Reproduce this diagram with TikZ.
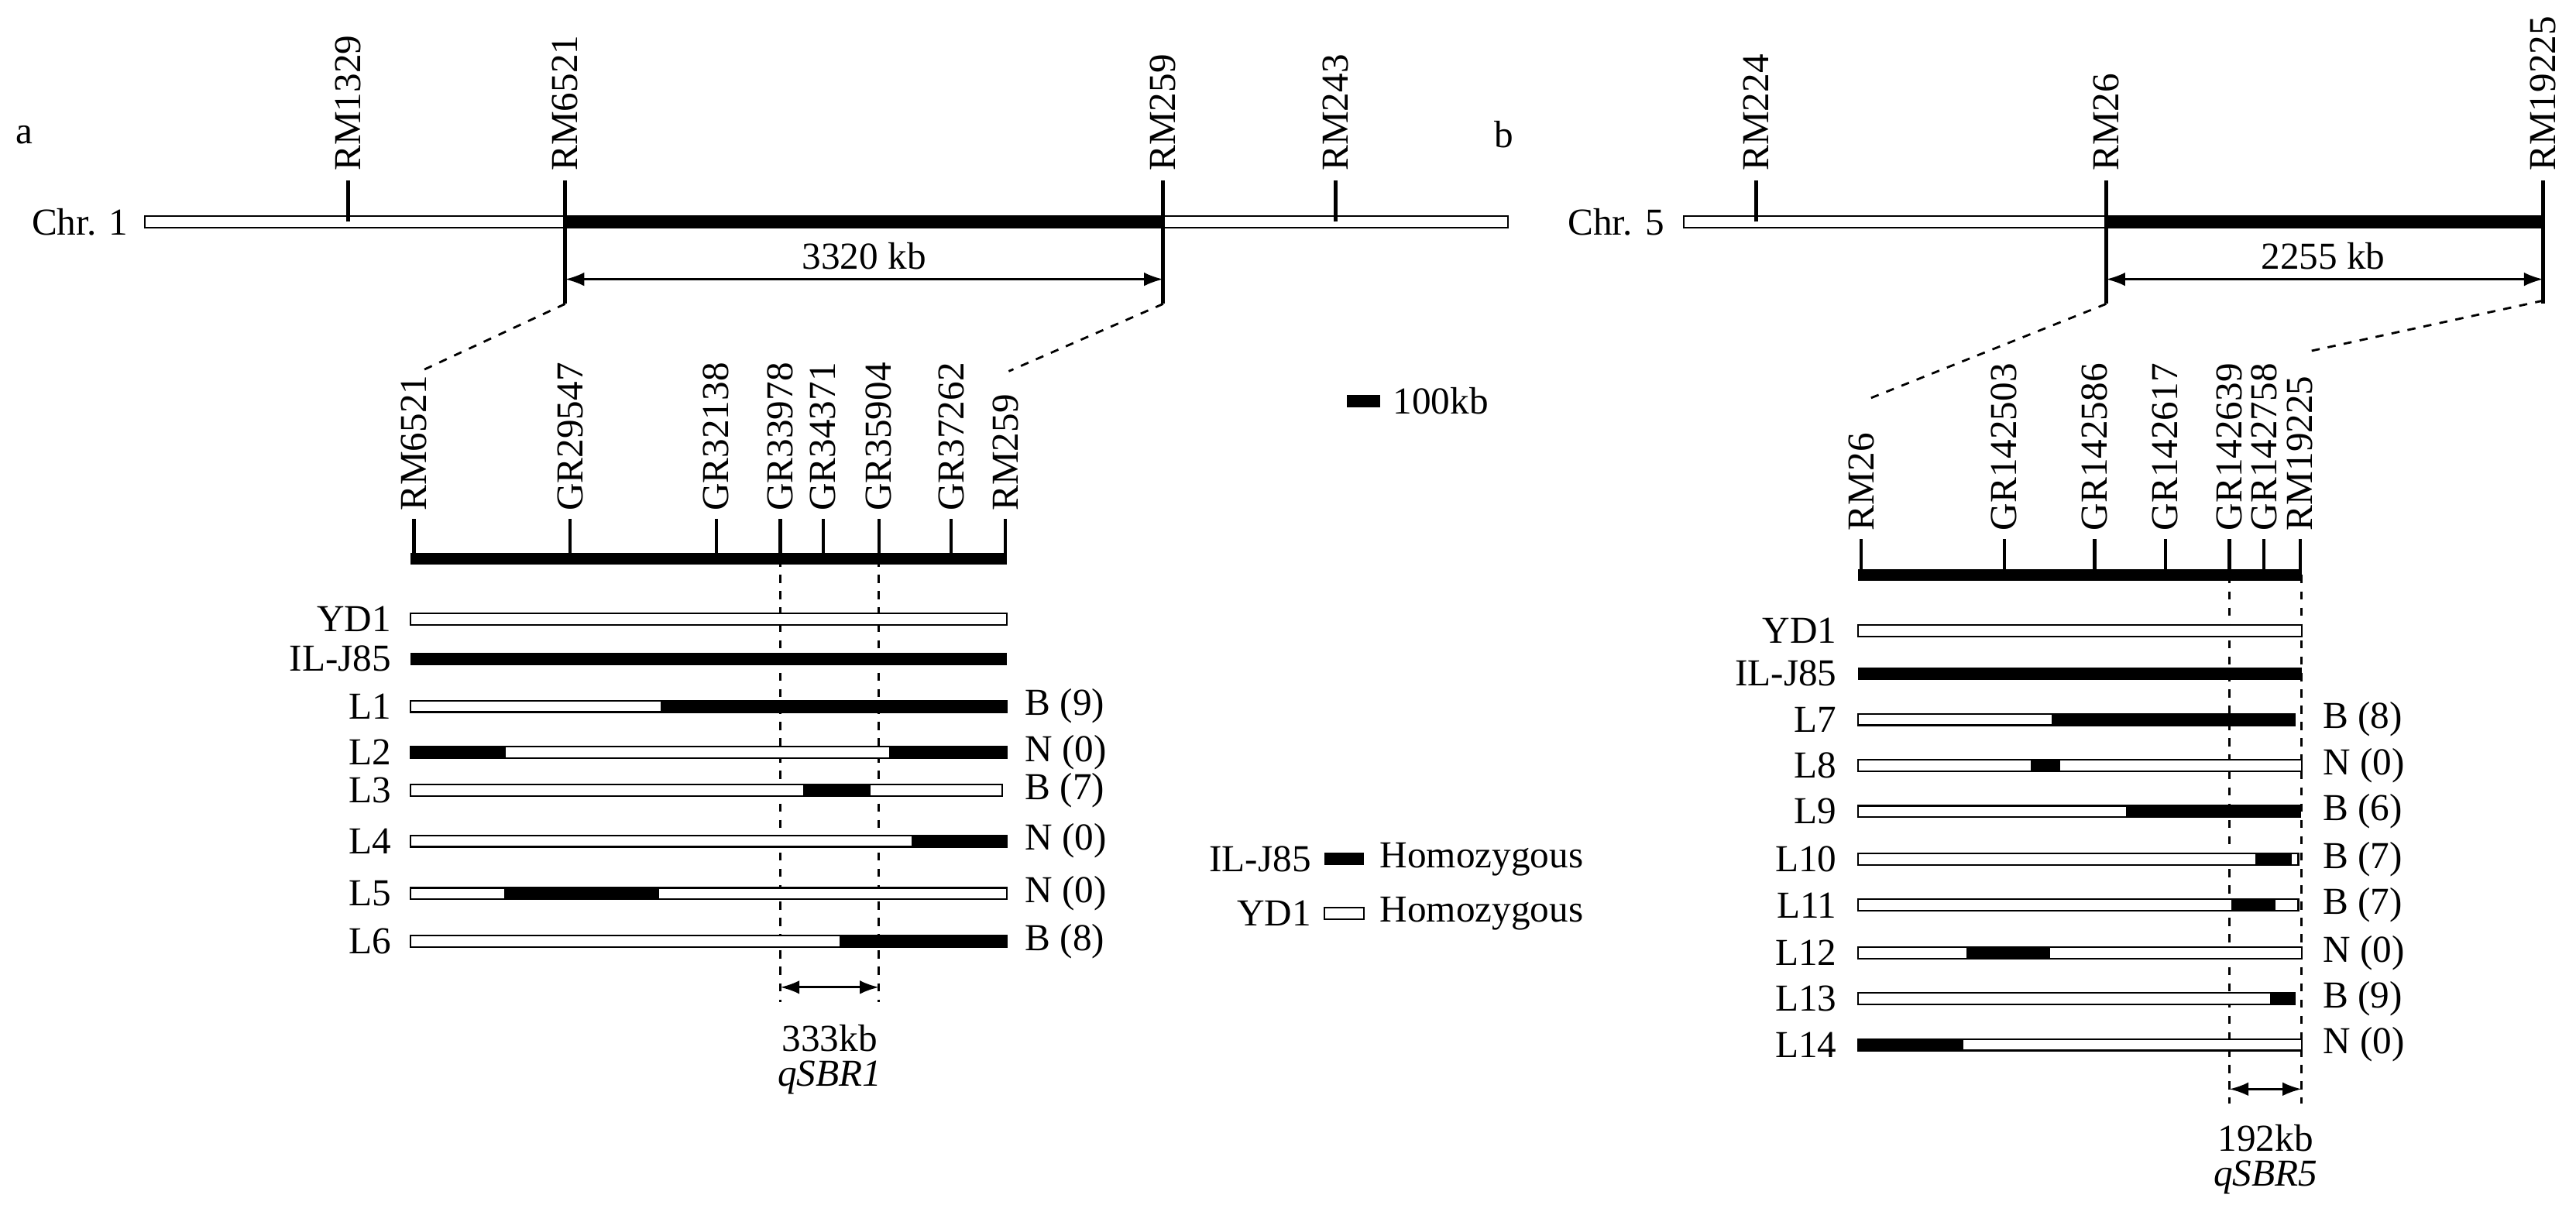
\documentclass[tikz,border=0pt]{standalone}
\usepackage{fontspec}
\setmainfont{Liberation Serif}
\usetikzlibrary{arrows.meta}
\newcommand\wbar[3]{\draw[fill=white,line width=0.6pt] (#1,#3-3.5) rectangle (#2,#3+3.5);}
\newcommand\bbar[3]{\fill[black] (#1,#3-3.8) rectangle (#2,#3+3.8);}
\begin{document}
\begin{tikzpicture}[x=0.02121cm,y=-0.02121cm,font=\fontsize{14}{16}\selectfont,
  mk/.style={line width=1.4pt},
  lab/.style={rotate=90,anchor=west,inner sep=1pt},
  rl/.style={anchor=east,inner sep=1pt},
  ll/.style={anchor=west,inner sep=1pt},
  dim/.style={line width=0.8pt,{Latex[length=7pt,width=5pt]}-{Latex[length=7pt,width=5pt]}},
  dsh/.style={dashed,line width=0.8pt}]
\useasboundingbox (0,0) rectangle (1568,748);
% ---------- panel a
\node[anchor=west] (pa) at (4,82) {a};
\node[rl] (chr1) at (80,135) {Chr. 1};
\wbar{88}{918}{135}
\bbar{344}{708}{135}
\draw[mk] (212,135) -- (212,110); \node[lab] (a1) at (212,106) {RM1329};
\draw[mk] (344,135) -- (344,110); \draw[line width=1.4pt] (344,135)--(344,185); \node[lab] (a2) at (344,106) {RM6521};
\draw[mk] (708,135) -- (708,110); \draw[line width=1.4pt] (708,135)--(708,185); \node[lab] (a3) at (708,106) {RM259};
\draw[mk] (813,135) -- (813,110); \node[lab] (a4) at (813,106) {RM243};
\draw[dim] (344,170) -- (708,170);
\node (d1) at (526,156) {3320 kb};
\draw[dsh] (344,185) -- (256,226);
\draw[dsh] (708,185) -- (614,226);
\fill (250,336.5) rectangle (613,343.5);
\foreach \x/\t in {252/RM6521,347/GR29547,436/GR32138,475/GR33978,501/GR34371,535/GR35904,579/GR37262,612/RM259}{
  \draw[line width=1.2pt] (\x,340) -- (\x,316);
  \node[lab] at (\x,313) {\t};}
\draw[dsh] (475,340) -- (475,610);
\draw[dsh] (535,340) -- (535,610);
\foreach \y/\t in {377/YD1,401/IL-J85,430/L1,458/L2,481/L3,512/L4,544/L5,573/L6}{\node[rl] at (240,\y) {\t};}
\wbar{250}{613}{377}
\bbar{250}{613}{401}
\wbar{250}{613}{430}\bbar{402}{613}{430}\node[ll] at (622,430) {B (9)};
\wbar{250}{613}{458}\bbar{250}{308}{458}\bbar{541}{613}{458}\node[ll] at (622,458) {N (0)};
\wbar{250}{610}{481}\bbar{489}{530}{481}\node[ll] at (622,481) {B (7)};
\wbar{250}{613}{512}\bbar{555}{613}{512}\node[ll] at (622,512) {N (0)};
\wbar{250}{613}{544}\bbar{307}{401}{544}\node[ll] at (622,544) {N (0)};
\wbar{250}{613}{573}\bbar{511}{613}{573}\node[ll] at (622,573) {B (8)};
\draw[dim] (475,601) -- (535,601);
\node (k1) at (505,632) {333kb};
\node (q1) at (505,656) {\itshape qSBR1};
% scale & legend
\bbar{820}{840}{244}
\node[ll] (sc) at (846,244) {100kb};
\node[rl] (lg1) at (800,523) {IL-J85};
\bbar{806}{830}{523}
\node[ll] (lg2) at (838,523) {Homozygous};
\node[rl] (lg3) at (800,556) {YD1};
\wbar{806}{830}{556}
\node[ll] (lg4) at (838,556) {Homozygous};
% ---------- panel b
\node[anchor=west] (pb) at (904,82) {b};
\node[rl] (chr5) at (1015,135) {Chr. 5};
\wbar{1025}{1548}{135}
\bbar{1282}{1548}{135}
\draw[mk] (1069,135) -- (1069,110); \node[lab] (b1) at (1069,106) {RM224};
\draw[mk] (1282,135) -- (1282,110); \draw[line width=1.4pt] (1282,135)--(1282,185); \node[lab] (b2) at (1282,106) {RM26};
\draw[mk] (1548,135) -- (1548,110); \draw[line width=1.4pt] (1548,135)--(1548,185); \node[lab] (b3) at (1548,106) {RM19225};
\draw[dim] (1282,170) -- (1548,170);
\node (d2) at (1414,156) {2255 kb};
\draw[dsh] (1282,185) -- (1137,243);
\draw[dsh] (1548,183) -- (1405,214);
\fill (1131,346.5) rectangle (1401,353.5);
\foreach \x/\t in {1133/RM26,1220/GR142503,1275/GR142586,1318/GR142617,1357/GR142639,1378/GR142758,1400/RM19225}{
  \draw[line width=1.2pt] (\x,350) -- (\x,328);
  \node[lab] at (\x,325) {\t};}
\draw[dsh] (1357,350) -- (1357,672);
\draw[dsh] (1401,350) -- (1401,672);
\foreach \y/\t in {384/YD1,410/IL-J85,438/L7,466/L8,494/L9,523/L10,551/L11,580/L12,608/L13,636/L14}{\node[rl] at (1120,\y) {\t};}
\wbar{1131}{1401}{384}
\bbar{1131}{1401}{410}
\wbar{1131}{1397}{438}\bbar{1249}{1397}{438}\node[ll] at (1412,438) {B (8)};
\wbar{1131}{1401}{466}\bbar{1236}{1254}{466}\node[ll] at (1412,466) {N (0)};
\wbar{1131}{1400}{494}\bbar{1294}{1400}{494}\node[ll] at (1412,494) {B (6)};
\wbar{1131}{1399}{523}\bbar{1373}{1395}{523}\node[ll] at (1412,523) {B (7)};
\wbar{1131}{1399}{551}\bbar{1358}{1385}{551}\node[ll] at (1412,551) {B (7)};
\wbar{1131}{1401}{580}\bbar{1197}{1248}{580}\node[ll] at (1412,580) {N (0)};
\wbar{1131}{1397}{608}\bbar{1382}{1397}{608}\node[ll] at (1412,608) {B (9)};
\wbar{1131}{1401}{636}\bbar{1131}{1195}{636}\node[ll] at (1412,636) {N (0)};
\draw[dim] (1357,663) -- (1401,663);
\node (k2) at (1379,693) {192kb};
\node (q2) at (1379,717) {\itshape qSBR5};
\end{tikzpicture}
\end{document}
